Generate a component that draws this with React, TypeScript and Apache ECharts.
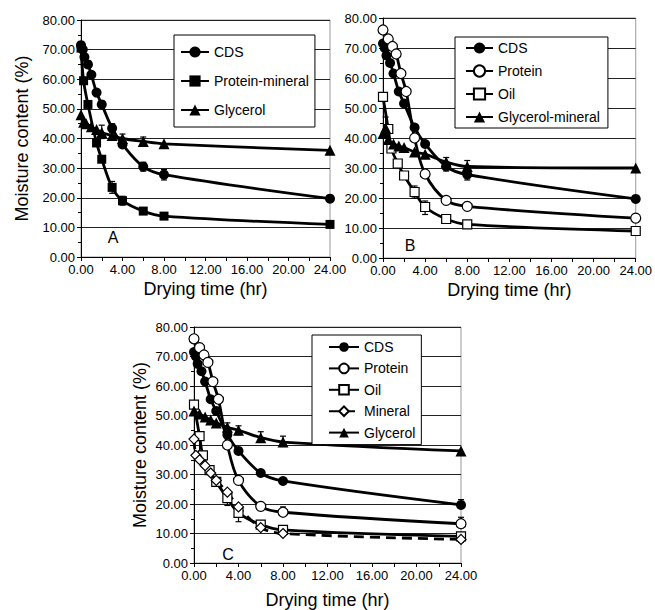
import React, { useEffect, useRef } from "react";
import * as echarts from "echarts";

const FONT = "'Liberation Sans', Arial, sans-serif";

// Drying time (hr), moisture content (%)
const cds = [[0, 71.5], [0.17, 70], [0.33, 67.5], [0.67, 65], [1, 61.5], [1.5, 55.5], [2, 51.5], [3, 43.5], [4, 38], [6, 30.5], [8, 27.8], [24, 19.7]];
const proteinMineralA = [[0, 70.5], [0.25, 59.5], [0.67, 51.5], [1.5, 38.5], [2, 33], [3, 23.5], [4, 19], [6, 15.5], [8, 13.8], [24, 11]];
const glycerolA = [[0, 48], [0.25, 45.5], [0.5, 45], [1, 44], [1.5, 43], [2, 42], [3, 41], [4, 40], [6, 39], [8, 38.2], [24, 36]];

const protein = [[0, 76], [0.5, 73], [0.9, 70.5], [1.25, 68], [1.7, 61.5], [2.2, 55.5], [3, 40], [4, 28], [6, 19.2], [8, 17.2], [24, 13.3]];
const oil = [[0, 53.7], [0.5, 43], [0.8, 36.5], [1.4, 31.5], [2, 27.5], [3, 22], [4, 17], [6, 13], [8, 11.2], [24, 9]];
const glycerolMineralB = [[0, 41.5], [0.25, 43.3], [0.5, 39.5], [1, 38], [1.5, 37.3], [2, 36.8], [3, 35.3], [4, 34.6], [6, 32], [8, 30.5], [24, 30]];

const mineralC = [[0, 42], [0.17, 36.5], [0.5, 35], [1, 33], [1.5, 30.5], [2, 28], [3, 24], [4, 19], [6, 12], [8, 10], [24, 8]];
const glycerolC = [[0, 51.5], [0.5, 50.5], [1, 49.5], [1.5, 48.5], [2, 47.5], [3, 46], [4, 45], [6, 42.5], [8, 41], [24, 38]];

// error bars: [time, low, high]
const errA = [[3, 42, 45], [3, 21.5, 25.5], [4, 17.5, 20.5], [2, 40, 44.5], [4, 38.5, 41.5], [6, 37.5, 40.5], [8, 26, 29.5], [6, 29, 32]];
const errB = [[0.25, 40, 47], [3, 20, 24], [4, 14.5, 19], [8, 28.5, 32.5], [8, 26, 29], [6, 29, 32], [8, 16, 18.5], [6, 30.5, 33.5]];
const errC = [[3, 44, 47.5], [4, 43.5, 46.5], [6, 41, 44.5], [8, 39.5, 43], [4, 14, 19], [3, 19.5, 23.5], [24, 18.5, 21.5], [24, 12, 15.5], [24, 7, 10], [8, 16, 19], [0.5, 36, 44]];

const xTicks = { min: 0, max: 24, interval: 4 };
const yTicks = { min: 0, max: 80, interval: 10 };

function mkX(gridIndex: number, nameGap: number) {
  return {
    type: "value", gridIndex, ...xTicks,
    axisLine: { show: true, onZero: false, lineStyle: { color: "#000", width: 1 } },
    axisTick: { show: true, length: 4, lineStyle: { color: "#000" } },
    minorTick: { show: true, splitNumber: 2, length: 4, lineStyle: { color: "#000" } },
    splitLine: { show: false },
    axisLabel: { formatter: (v: number) => v.toFixed(2), fontSize: 13, color: "#000", fontFamily: FONT, margin: 6 },
    name: "Drying time (hr)", nameLocation: "middle", nameGap,
    nameTextStyle: { fontSize: 18, color: "#000", fontFamily: FONT },
  };
}
function mkY(gridIndex: number, showName: boolean, nameGap: number) {
  return {
    type: "value", gridIndex, ...yTicks,
    axisLine: { show: true, lineStyle: { color: "#000", width: 1 } },
    axisTick: { show: true, length: 4, lineStyle: { color: "#000" } },
    minorTick: { show: true, splitNumber: 2, length: 3, lineStyle: { color: "#000" } },
    splitLine: { show: true, lineStyle: { color: "#222", width: 1 } },
    axisLabel: { formatter: (v: number) => v.toFixed(2), fontSize: 13, color: "#000", fontFamily: FONT, margin: 6 },
    name: showName ? "Moisture content (%)" : "", nameLocation: "middle", nameGap,
    nameTextStyle: { fontSize: 18, color: "#000", fontFamily: FONT },
  };
}
function line(name: string, data: number[][], idx: number, symbol: string, filled: boolean, size: number, dashed = false) {
  return {
    type: "line", name, data, xAxisIndex: idx, yAxisIndex: idx, smooth: 0.35,
    symbol, symbolSize: size, showSymbol: true,
    lineStyle: { color: "#000", width: 2.8, type: dashed ? [10, 6] : "solid" },
    itemStyle: filled ? { color: "#000" } : { color: "#fff", borderColor: "#000", borderWidth: 1.2 },
    z: 3,
  };
}
function errBars(data: number[][], idx: number) {
  return {
    type: "custom", xAxisIndex: idx, yAxisIndex: idx, data, silent: true, z: 2,
    renderItem: (params: any, api: any) => {
      const x = api.value(0), lo = api.value(1), hi = api.value(2);
      const p1 = api.coord([x, lo]);
      const p2 = api.coord([x, hi]);
      const w = 3;
      const st = { stroke: "#000", lineWidth: 1.2 };
      return {
        type: "group",
        children: [
          { type: "line", shape: { x1: p1[0], y1: p1[1], x2: p2[0], y2: p2[1] }, style: st },
          { type: "line", shape: { x1: p1[0] - w, y1: p1[1], x2: p1[0] + w, y2: p1[1] }, style: st },
          { type: "line", shape: { x1: p2[0] - w, y1: p2[1], x2: p2[0] + w, y2: p2[1] }, style: st },
        ],
      };
    },
  };
}
function legend(left: number, top: number, names: string[], padding: number[], itemGap: number, itemWidth: number, itemHeight: number) {
  return {
    orient: "vertical", left, top, padding, itemGap, itemWidth, itemHeight,
    backgroundColor: "#fff", borderColor: "#000", borderWidth: 1, borderRadius: 0,
    textStyle: { fontSize: 14, color: "#000", fontFamily: FONT },
    data: names, selectedMode: false,
  };
}
function letter(t: string, x: number, y: number) {
  return {
    type: "text", x, y, z: 10,
    style: { text: t, fontSize: 16, fontFamily: FONT, fill: "#000", align: "center", verticalAlign: "middle" },
  };
}

export default function App() {
  const ref = useRef<HTMLDivElement>(null);
  useEffect(() => {
    document.body.style.margin = "0";
    const chart = echarts.init(ref.current!, undefined, { renderer: "svg" });
    chart.setOption({
      animation: false,
      textStyle: { fontFamily: FONT },
      grid: [
        { left: 81, top: 20, width: 249, height: 237, show: true, borderColor: "#999", borderWidth: 1 },
        { left: 383, top: 18, width: 253, height: 240, show: true, borderColor: "#999", borderWidth: 1 },
        { left: 194, top: 327, width: 267, height: 237, show: true, borderColor: "#999", borderWidth: 1 },
      ],
      xAxis: [mkX(0, 23), mkX(1, 23), mkX(2, 28)],
      yAxis: [mkY(0, true, 50), mkY(1, false, 50), mkY(2, true, 45)],
      legend: [
        legend(174, 35, ["CDS", "Protein-mineral", "Glycerol"], [10, 6, 10, 6], 15, 28, 14),
        legend(455, 37, ["CDS", "Protein", "Oil", "Glycerol-mineral"], [4, 8, 4, 10], 9, 27, 14),
        legend(312, 335, ["CDS", "Protein", "Oil", "Mineral", "Glycerol"], [5, 6, 5, 16], 7.4, 30, 12),
      ],
      graphic: [letter("A", 113, 237), letter("B", 410, 245), letter("C", 228, 554)],
      series: [
        errBars(errA, 0),
        line("CDS", cds, 0, "circle", true, 10),
        line("Protein-mineral", proteinMineralA, 0, "rect", true, 9),
        line("Glycerol", glycerolA, 0, "triangle", true, 11),
        errBars(errB, 1),
        line("CDS", cds, 1, "circle", true, 10),
        line("Protein", protein, 1, "circle", false, 10),
        line("Oil", oil, 1, "rect", false, 9),
        line("Glycerol-mineral", glycerolMineralB, 1, "triangle", true, 11),
        errBars(errC, 2),
        line("CDS", cds, 2, "circle", true, 10),
        line("Protein", protein, 2, "circle", false, 10),
        line("Oil", oil, 2, "rect", false, 9),
        line("Mineral", mineralC, 2, "diamond", false, 10, true),
        line("Glycerol", glycerolC, 2, "triangle", true, 11),
      ],
    });
    return () => chart.dispose();
  }, []);
  return <div ref={ref} style={{ width: 655, height: 610 }} />;
}
